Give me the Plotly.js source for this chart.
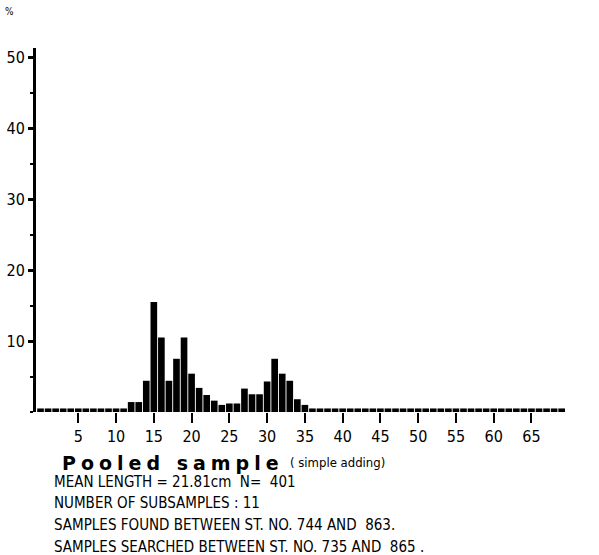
<!DOCTYPE html>
<html>
<head>
<meta charset="utf-8">
<script src="https://cdn.plot.ly/plotly-3.0.1.min.js"></script>
<style>
  html, body { margin: 0; padding: 0; background: #fff; }
  #chart { width: 599px; height: 555px; }
  .annotation[data-index="2"] text { letter-spacing: 5px; }
</style>
</head>
<body>
<div id="chart"></div>
<script>
// Length classes (cm) and percentage of fish in each class
const lengthCm = [];
for (let c = 0; c <= 69; c++) lengthCm.push(c);
const percent = [
  0.5, 0.5, 0.5, 0.5, 0.5, 0.5, 0.5, 0.5, 0.5, 0.5,   // 0-9
  0.5, 0.5, 1.4, 1.4, 4.4, 15.5, 10.5, 4.4, 7.5, 10.5, // 10-19
  5.4, 3.4, 2.4, 1.6, 1.0, 1.2, 1.2, 3.3, 2.5, 2.5,    // 20-29
  4.3, 7.5, 5.4, 4.4, 1.8, 1.0, 0.5, 0.5, 0.5, 0.5,    // 30-39
  0.5, 0.5, 0.5, 0.5, 0.5, 0.5, 0.5, 0.5, 0.5, 0.5,    // 40-49
  0.5, 0.5, 0.5, 0.5, 0.5, 0.5, 0.5, 0.5, 0.5, 0.5,    // 50-59
  0.5, 0.5, 0.5, 0.5, 0.5, 0.5, 0.5, 0.5, 0.5, 0.5     // 60-69
];
const xTickVals = [5, 10, 15, 20, 25, 30, 35, 40, 45, 50, 55, 60, 65];
const yTickVals = [10, 20, 30, 40, 50];

const title = "Pooled sample";
const subtitle = "( simple adding)";
const infoLines = [
  "MEAN LENGTH = 21.81cm  N=  401",
  "NUMBER OF SUBSAMPLES : 11",
  "SAMPLES FOUND BETWEEN ST. NO. 744 AND  863.",
  "SAMPLES SEARCHED BETWEEN ST. NO. 735 AND  865 ."
];

const narrow = "Liberation Sans Narrow, DejaVu Sans Condensed, Arial Narrow, sans-serif";

const annotations = [
  {text: "%", xref: "paper", yref: "paper", x: -0.05, y: 1.1, xanchor: "center", yanchor: "middle",
   showarrow: false, font: {family: narrow, size: 10, color: "#000"}},
  {text: "CM", xref: "x", yref: "paper", x: 72, y: -0.068, xanchor: "center", yanchor: "middle",
   showarrow: false, font: {family: narrow, size: 16, color: "#000"}},
  {text: title, xref: "paper", yref: "paper", x: (60 - 36) / 537.5, y: -0.14, xanchor: "left", yanchor: "middle",
   align: "left", showarrow: false, font: {family: "DejaVu Sans, sans-serif", size: 19, color: "#000", weight: "bold"}},
  {text: subtitle, xref: "paper", yref: "paper", x: (288 - 36) / 537.5, y: -0.14, xanchor: "left", yanchor: "middle",
   align: "left", showarrow: false, font: {family: narrow, size: 13, color: "#000"}}
];
const lineY = [482, 503, 525, 547];
infoLines.forEach((t, i) => {
  annotations.push({
    text: t, xref: "paper", yref: "paper",
    x: (52 - 36) / 537.5, y: (412 - lineY[i]) / 364,
    xanchor: "left", yanchor: "middle", align: "left", showarrow: false,
    font: {family: narrow, size: 15, color: "#000"}
  });
});

const trace = {
  type: "bar",
  x: lengthCm,
  y: percent,
  marker: {color: "#000", line: {width: 0}},
  hoverinfo: "x+y"
};

const layout = {
  width: 599, height: 555,
  margin: {l: 36, r: 25.5, t: 48, b: 143},
  paper_bgcolor: "#fff", plot_bgcolor: "#fff",
  showlegend: false,
  bargap: 0.12,
  xaxis: {
    range: [-0.6, 70.5],
    showgrid: false, zeroline: false, showline: false,
    tickmode: "array", tickvals: xTickVals, ticktext: xTickVals.map(String),
    ticks: "outside", ticklen: 10, tickwidth: 2, tickcolor: "#000",
    tickfont: {family: narrow, size: 16, color: "#000"}
  },
  yaxis: {
    range: [0, 51.3],
    showgrid: false, zeroline: false,
    showline: true, linewidth: 3, linecolor: "#000",
    tickmode: "array", tickvals: yTickVals, ticktext: yTickVals.map(String),
    ticks: "outside", ticklen: 5, tickwidth: 3, tickcolor: "#000",
    tickfont: {family: narrow, size: 16, color: "#000"},
    minor: {tickmode: "linear", tick0: 0, dtick: 5, ticks: "outside", ticklen: 3, tickwidth: 2, tickcolor: "#000", showgrid: false}
  },
  annotations: annotations
};

Plotly.newPlot("chart", [trace], layout, {displayModeBar: false, staticPlot: true});
</script>
</body>
</html>
